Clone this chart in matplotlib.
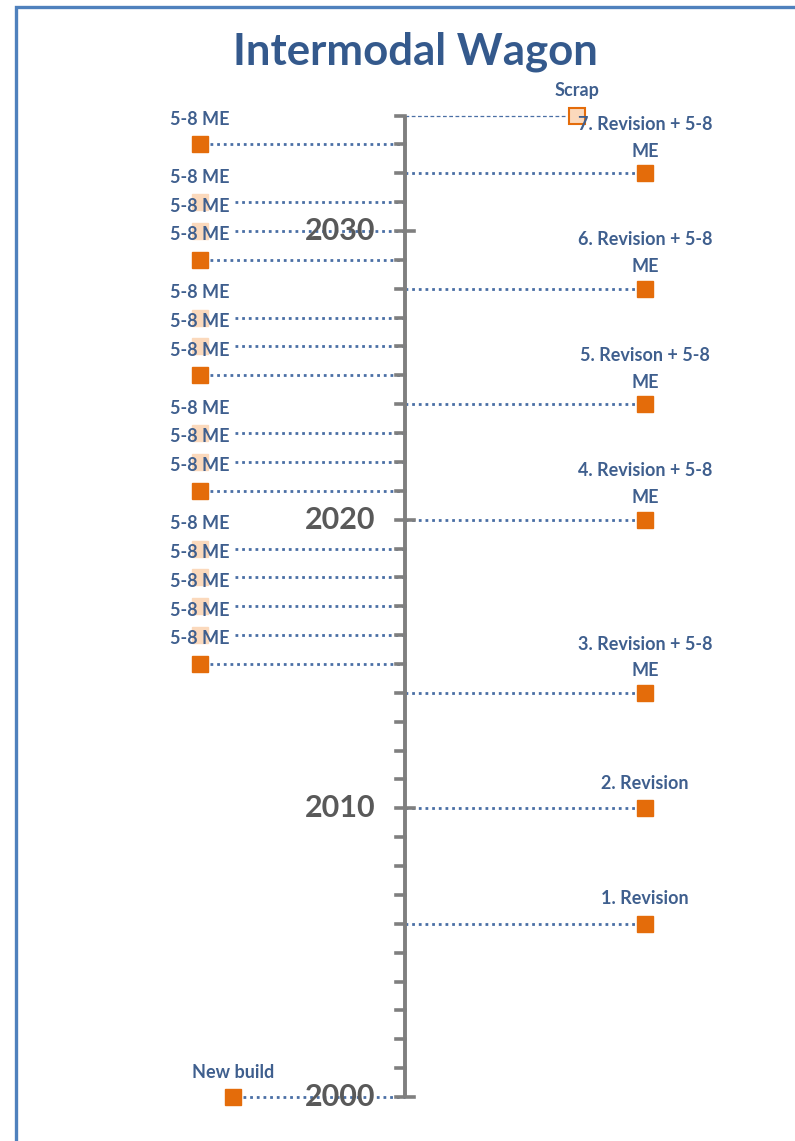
import matplotlib
matplotlib.use("Agg")
import matplotlib.pyplot as plt
from matplotlib.patches import Rectangle

# --- data ---
start_year = 2000
end_year = 2034
major_years = [2000, 2010, 2020, 2030]

revision_years = [2006, 2010, 2014, 2020, 2024, 2028, 2032]
revision_labels = ["1. Revision", "2. Revision", "3. Revision + 5-8\nME",
                   "4. Revision + 5-8\nME", "5. Revison + 5-8\nME",
                   "6. Revision + 5-8\nME", "7. Revision + 5-8\nME"]

me_years = [2015, 2016, 2017, 2018, 2019, 2021, 2022, 2023,
            2025, 2026, 2027, 2029, 2030, 2031, 2033]
me_solid = [True, False, False, False, False, True, False, False,
            True, False, False, True, False, False, True]
me_label = "5-8 ME"

new_build_year = 2000
scrap_year = 2034

# --- style ---
orange = "#E46C0A"
faded = "#FBD9BC"
txt_blue = "#3F5F8E"
dot_blue = "#4A6FA5"
axis_gray = "#7F7F7F"
year_gray = "#595959"
font = ["Lato", "DejaVu Sans"]

W, H = 795, 1141
px_per_year = 866 / 30.0
y_bottom = 2000 - (H - 1097) / px_per_year
y_top = 2030 + 231 / px_per_year

fig = plt.figure(figsize=(W / 100, H / 100), dpi=100)
ax = fig.add_axes([0, 0, 1, 1])
ax.set_xlim(0, W)
ax.set_ylim(y_bottom, y_top)
ax.axis("off")

# horizontal layout (pixels)
axis_x = 405
left_x = 200
right_x = 645
build_x = 233
scrap_x = 577
lab_off = 25 / px_per_year
dots = dict(color=dot_blue, lw=2.0, linestyle=(0, (1.0, 1.4)), zorder=2)
lab_kw = dict(ha="center", va="center", fontsize=13, fontweight="bold",
              color=txt_blue, family=font, zorder=6)

# frame
ax.add_patch(Rectangle((16, y_bottom - 5), W, y_top - 7 / px_per_year - y_bottom + 5,
                       fill=False, ec="#4F81BD", lw=2.4, zorder=0))

# timeline axis
ax.plot([axis_x, axis_x], [start_year, end_year], color=axis_gray, lw=2.8,
        zorder=3, solid_capstyle="butt")
for yr in range(start_year, end_year + 1):
    if yr in major_years:
        ax.plot([axis_x - 9, axis_x + 9], [yr, yr], color=axis_gray, lw=2.6, zorder=3)
    else:
        ax.plot([axis_x - 9, axis_x], [yr, yr], color=axis_gray, lw=2.6, zorder=3)

# revisions on the right
for yr, lab in zip(revision_years, revision_labels):
    ax.plot([axis_x, right_x], [yr, yr], **dots)
    ax.plot(right_x, yr, "s", ms=12, color=orange, mec=orange, zorder=5)
    n = lab.count("\n")
    ax.text(right_x, yr + lab_off + n * 0.36, lab, linespacing=1.7, **lab_kw)

# 5-8 ME on the left
for yr, solid in zip(me_years, me_solid):
    if solid:
        ax.plot([left_x + 10, axis_x], [yr, yr], **dots)
        ax.plot(left_x, yr, "s", ms=12, color=orange, mec=orange, zorder=5)
    else:
        ax.plot([left_x + 35, axis_x], [yr, yr], **dots)
        ax.plot(left_x, yr, "s", ms=12, color=faded, mec=faded, zorder=1)
    ax.text(left_x, yr + lab_off, me_label, **lab_kw)

# new build
ax.plot([build_x + 10, axis_x], [new_build_year, new_build_year], **dots)
ax.plot(build_x, new_build_year, "s", ms=12, color=orange, mec=orange, zorder=5)
ax.text(build_x, new_build_year + lab_off, "New build", **lab_kw)

# scrap
ax.plot([axis_x, scrap_x - 8], [scrap_year, scrap_year], color=dot_blue, lw=0.9,
        linestyle=(0, (3, 2)), zorder=2)
ax.plot(scrap_x, scrap_year, "s", ms=12, color=faded, mec=orange, mew=1.5, zorder=4)
ax.text(scrap_x, scrap_year + lab_off, "Scrap", **lab_kw)

# year labels
for yr in major_years:
    ax.text(340, yr, str(yr), ha="center", va="center", fontsize=22,
            fontweight="bold", color=year_gray, family=font, zorder=7)

fig.text(415 / W, 1 - 52 / H, "Intermodal Wagon", ha="center", va="center",
         fontsize=31.5, fontweight="bold", color="#34598C", family=font)

fig.savefig("out.png", dpi=100)
